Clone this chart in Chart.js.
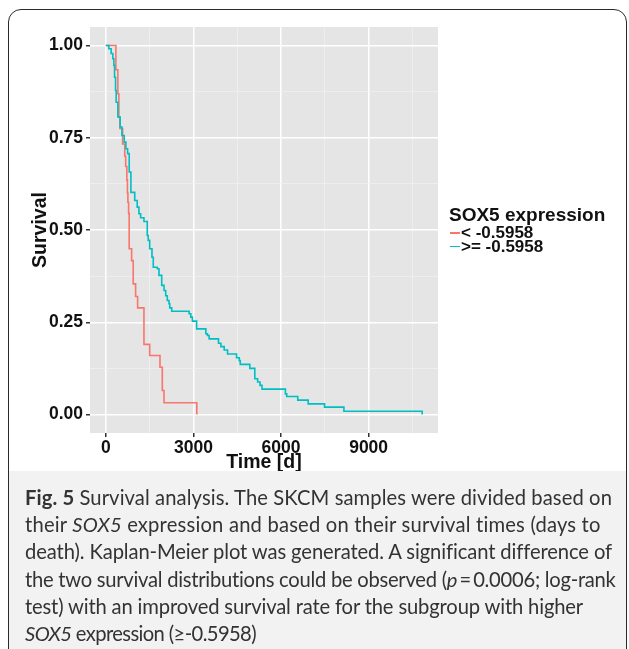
<!DOCTYPE html>
<html>
<head>
<meta charset="utf-8">
<script src="https://cdn.jsdelivr.net/npm/chart.js@4.4.1/dist/chart.umd.min.js"></script>
<style>
  html, body { margin:0; padding:0; background:#fff; }
  body { width:629px; height:649px; position:relative; overflow:hidden; }
  #frame { position:absolute; left:8px; top:9px; width:619px; height:680px; border:1.6px solid #2a2a2a; border-radius:13px; box-sizing:border-box; overflow:hidden; }
  #caption { position:absolute; left:0; top:461px; width:100%; height:240px; background:#f2f2f2; }
  #captext { position:absolute; left:16px; top:12.8px; font-family:'Lato', sans-serif; font-size:20.2px; line-height:27.3px; color:#333; white-space:nowrap; }
  #captext span { display:inline-block; }
  #chart { position:absolute; left:0; top:0; }
  #legend { position:absolute; left:449px; top:204px; font-family:'Liberation Sans', Arial, sans-serif; font-weight:bold; color:#111; }
  #legend .title { font-size:19px; line-height:22px; }
  #legend .row { font-size:17px; line-height:13.5px; height:13.5px; position:relative; padding-left:12px; }
  #legend .key { position:absolute; left:1px; top:6px; width:10px; height:1.6px; }
</style>
</head>
<body>
<canvas id="chart" width="629" height="475"></canvas>
<div id="frame">
  <div id="caption"><div id="captext"></div></div>
</div>
<div id="legend"></div>
<script>
// ---- data ----
const legendTitle = 'SOX5 expression';
const groupLabels = ['< -0.5958', '>= -0.5958'];
const groupColors = ['#F8766D', '#00BFC4'];

const lowTime = [0, 344, 412, 447, 481, 575, 648, 680, 720, 740, 756, 780, 800, 883, 938, 1020, 1089, 1306, 1502, 1855, 1934, 1993, 3116];
const lowSurv = [1.0, 0.934, 0.869, 0.806, 0.775, 0.733, 0.700, 0.672, 0.635, 0.600, 0.575, 0.545, 0.449, 0.417, 0.354, 0.320, 0.289, 0.190, 0.160, 0.128, 0.065, 0.032, 0.0];

const highTime = [0,103,182,241,275,299,333,354,412,491,550,629,687,746,801,859,990,1075,1134,1192,1306,1419,1453,1502,1581,1625,1763,1821,1914,1993,2051,2106,2165,2189,2257,2852,2910,2965,3110,3426,3481,3539,3859,3941,4054,4168,4477,4570,4604,4931,5102,5199,5281,5350,6150,6195,6573,6930,7490,8154,10834];
const highSurv = [1,0.991,0.978,0.964,0.946,0.914,0.878,0.846,0.806,0.779,0.756,0.738,0.720,0.707,0.657,0.602,0.580,0.562,0.544,0.533,0.523,0.485,0.472,0.449,0.426,0.399,0.395,0.377,0.350,0.336,0.322,0.309,0.300,0.289,0.280,0.273,0.264,0.253,0.232,0.219,0.214,0.205,0.193,0.184,0.175,0.164,0.154,0.146,0.136,0.125,0.097,0.088,0.079,0.069,0.056,0.049,0.039,0.029,0.020,0.009,0];

const xTicks = [0, 1500, 3000, 4500, 6000, 7500, 9000, 10500];
const xMajor = [0, 3000, 6000, 9000];
const xLabels = ['0', '3000', '6000', '9000'];
const yTicks = [0, 0.125, 0.25, 0.375, 0.5, 0.625, 0.75, 0.875, 1];
const yMajor = [0, 0.25, 0.5, 0.75, 1];
const yLabels = ['0.00', '0.25', '0.50', '0.75', '1.00'];
const xTitle = 'Time [d]';
const yTitle = 'Survival';

const captionLines = [
  '<b>Fig. 5</b> Survival analysis. The SKCM samples were divided based on',
  'their <i>SOX5</i> expression and based on their survival times (days to',
  'death). Kaplan-Meier plot was generated. A significant difference of',
  'the two survival distributions could be observed (<i>p</i>\u2009=\u20090.0006; log-rank',
  'test) with an improved survival rate for the subgroup with higher',
  '<i>SOX5</i> expression (\u2265-0.5958)'
];
// width of each caption line in the reference, px
const captionWidths = [587, 576, 586, 591, 558, 231];

// ---- chart ----
const panelBg = {
  id: 'panelBg',
  beforeDraw(chart) {
    const a = chart.chartArea, c = chart.ctx;
    c.save(); c.fillStyle = '#e5e5e5';
    c.fillRect(a.left, a.top, a.right - a.left, a.bottom - a.top);
    c.restore();
  }
};
const tickFont = { family: "'Liberation Sans', Arial, sans-serif", size: 17.5, weight: 'bold' };
const titleFont = { family: "'Liberation Sans', Arial, sans-serif", size: 19.5, weight: 'bold' };
const isIn = (arr, v) => arr.some(m => Math.abs(m - v) < 1e-9);

function gridOpts(majors) {
  return {
    color: c => isIn(majors, c.tick.value) ? '#ffffff' : '#f2f2f2',
    lineWidth: c => isIn(majors, c.tick.value) ? 1.5 : 0.7,
    tickColor: c => isIn(majors, c.tick.value) ? '#333333' : 'rgba(0,0,0,0)',
    tickLength: 4,
    drawTicks: true
  };
}

new Chart(document.getElementById('chart'), {
  type: 'line',
  data: {
    datasets: [
      { label: groupLabels[0], data: lowTime.map((t, i) => ({ x: t, y: lowSurv[i] })),
        borderColor: groupColors[0], borderWidth: 1.6, pointRadius: 0, stepped: 'before', fill: false, order: 1 },
      { label: groupLabels[1], data: highTime.map((t, i) => ({ x: t, y: highSurv[i] })),
        borderColor: groupColors[1], borderWidth: 1.6, pointRadius: 0, stepped: 'before', fill: false, order: 0 }
    ]
  },
  options: {
    responsive: false, animation: false, devicePixelRatio: 1,
    layout: { padding: { left: 0, right: 191, top: 27, bottom: 0 } },
    plugins: { legend: { display: false }, tooltip: { enabled: false } },
    scales: {
      x: {
        type: 'linear', min: -542, max: 11376,
        afterBuildTicks: s => { s.ticks = xTicks.map(v => ({ value: v })); },
        afterFit: s => { s.height = 42; },
        ticks: { autoSkip: false, maxRotation: 0, padding: 1, color: '#111', font: tickFont,
          callback: v => { const i = xMajor.findIndex(m => Math.abs(m - v) < 1e-9); return i >= 0 ? xLabels[i] : ''; } },
        grid: gridOpts(xMajor),
        border: { display: false },
        title: { display: true, text: xTitle, color: '#111', font: titleFont, padding: { top: 0, bottom: 1 } }
      },
      y: {
        type: 'linear', min: -0.05, max: 1.05,
        afterBuildTicks: s => { s.ticks = yTicks.map(v => ({ value: v })); },
        afterFit: s => { s.width = 90; },
        ticks: { autoSkip: false, padding: 3, color: '#111', font: tickFont,
          callback: v => { const i = yMajor.findIndex(m => Math.abs(m - v) < 1e-9); return i >= 0 ? yLabels[i] : ''; } },
        grid: gridOpts(yMajor),
        border: { display: false },
        title: { display: true, text: yTitle, color: '#111', font: titleFont, padding: { top: 29, bottom: 0 } }
      }
    }
  },
  plugins: [panelBg]
});

// ---- legend ----
const lg = document.getElementById('legend');
let html = '<div class="title">' + legendTitle + '</div>';
groupLabels.forEach((l, i) => {
  html += '<div class="row"><span class="key" style="background:' + groupColors[i] + '"></span>' +
    l.replace(/</g, '&lt;').replace(/>/g, '&gt;') + '</div>';
});
lg.innerHTML = html;

// ---- caption ----
const cap = document.getElementById('captext');
cap.innerHTML = captionLines.map(l => '<span>' + l + '</span>').join('<br>');
cap.querySelectorAll('span').forEach((sp, i) => {
  const w = sp.getBoundingClientRect().width;
  const n = sp.textContent.length;
  const ls = (captionWidths[i] - w) / n;
  sp.style.letterSpacing = ls.toFixed(3) + 'px';
});
</script>
</body>
</html>
